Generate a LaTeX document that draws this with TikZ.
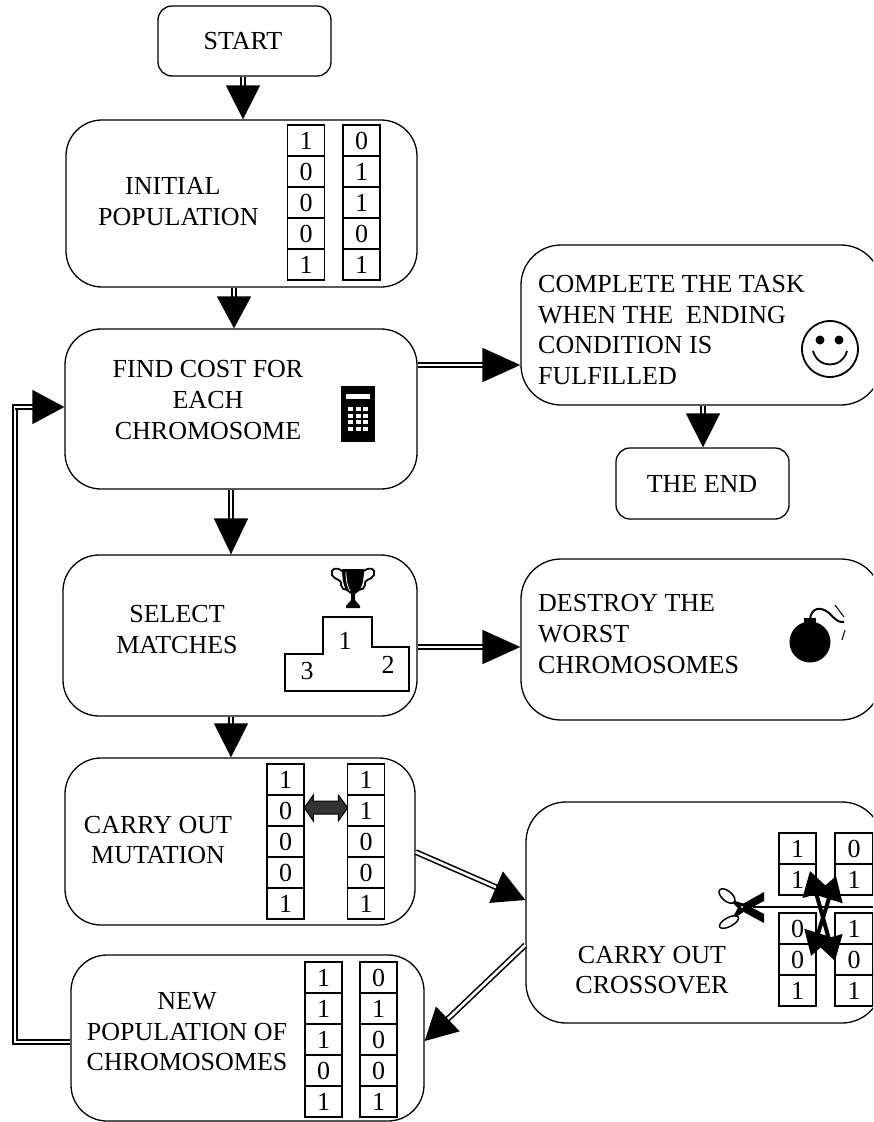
\documentclass[tikz,border=0pt]{standalone}
\usepackage{fontspec}
\setmainfont{Liberation Serif}
\usetikzlibrary{arrows.meta}
\tikzset{
  box/.style={draw,rounded corners=#1,line width=1.3,inner sep=0},
  label/.style={font=\fontsize{26}{30.6}\selectfont,inner sep=0,align=center},
  lab/.style={font=\fontsize{26}{30.6}\selectfont,inner sep=0,align=left,anchor=west},
  cell/.style={draw,line width=1.2,inner sep=0,minimum width=#1,font=\fontsize{26}{26}\selectfont},
  flow/.style={draw,line width=1.6,double,double distance=2.6,-{Triangle[length=#1,width=34]}},
  flow/.default=36,
  swap/.style={line width=4,{Triangle[length=24,width=28]}-{Triangle[length=24,width=28]}},
}
% \gridcol{name}{x centre}{width}{top}{row height}{digits}
\newcommand{\gridcol}[6]{%
  \foreach \d [count=\i from 0] in {#6}{
    \node[cell=#3,minimum height=#5] (#1\i) at (#2,{#4+(\i+0.5)*#5}) {\d};
  }}
\begin{document}
\begin{tikzpicture}[x=1pt,y=-1pt]
\useasboundingbox (0,0) rectangle (873,1122);
\clip (0,0) rectangle (873,1122);
\fill[white] (0,0) rectangle (873,1122);
% boxes
\node[box=14,minimum width=173,minimum height=70] (start) at (244.5,41) {};
\node[box=36,minimum width=351,minimum height=167] (init) at (241.5,203.5) {};
\node[box=36,minimum width=352,minimum height=160] (find) at (241,409) {};
\node[box=36,minimum width=354,minimum height=161] (sel) at (240,635.5) {};
\node[box=36,minimum width=350,minimum height=167] (mut) at (240,841.5) {};
\node[box=36,minimum width=353,minimum height=166] (newp) at (247.5,1038) {};
\node[box=40,minimum width=360,minimum height=160] (comp) at (701,325) {};
\node[box=14,minimum width=173,minimum height=71] (theend) at (702.5,483.5) {};
\node[box=40,minimum width=360,minimum height=161] (destr) at (701,639.5) {};
\node[box=40,minimum width=356,minimum height=221] (cross) at (704,912.5) {};
% box texts
\node[label] (t1) at (243,41) {START};
\node[lab] (t2) at (98,201.5) {\hspace{27pt}INITIAL\\POPULATION};
\node[label] (t3) at (208,400) {FIND COST FOR\\EACH\\CHROMOSOME};
\node[label] (t4) at (177,629.5) {SELECT\\MATCHES};
\node[label] (t5) at (158,840) {CARRY OUT\\MUTATION};
\node[label] (t6) at (187,1032) {NEW\\POPULATION OF\\CHROMOSOMES};
\node[lab] (t7) at (538,330) {COMPLETE THE TASK\\WHEN THE\ \ ENDING\\CONDITION IS\\FULFILLED};
\node[label] (t8) at (702,484) {THE END};
\node[lab] (t9) at (538,634) {DESTROY THE\\WORST\\CHROMOSOMES};
\node[label] (t10) at (652,970) {CARRY OUT\\CROSSOVER};
% connectors
\draw[flow=34] ([xshift=-1.5]start.south) -- ([xshift=1.5]init.north);
\draw[flow=32] ([xshift=-7.5]init.south) -- ([xshift=-7]find.north);
\draw[flow=36] ([xshift=-10]find.south) -- ([xshift=-9]sel.north);
\draw[flow=34] ([xshift=-9]sel.south) -- ([xshift=-9]mut.north);
\draw[flow=38] ([yshift=44]find.east) -- ([yshift=-40]comp.west);
\draw[flow=34] ([xshift=2]comp.south) -- ([xshift=.5]theend.north);
\draw[flow=38] ([yshift=-11.5]sel.east) -- ([yshift=-7.5]destr.west);
\draw[flow=32] ([yshift=-10.5]mut.east) -- ([yshift=12.5]cross.west);
\draw[flow=32] ([yshift=-32.5]cross.west) -- ([yshift=-3]newp.east);
\coordinate (corner1) at (15,1042);
\coordinate (corner2) at (15,407);
\draw[line width=1.6,double,double distance=2.6,line join=miter] ([yshift=-4]newp.west) -- (corner1) -- (corner2) -- ++(20,0);
\draw[flow=32] (corner2) -- ([yshift=2]find.west);
% grids
\gridcol{a}{306}{37}{125}{31}{1,0,0,0,1}
\gridcol{b}{361.5}{37}{125}{31}{0,1,1,0,1}
\gridcol{c}{285.5}{37}{764}{31}{1,0,0,0,1}
\gridcol{d}{366}{37}{764}{31}{1,1,0,0,1}
\gridcol{e}{323.5}{37}{962}{31}{1,1,1,0,1}
\gridcol{f}{378.5}{37}{962}{31}{0,1,0,0,1}
\gridcol{g}{797.5}{37}{833}{31}{1,1}
\gridcol{h}{854}{38}{833}{31}{0,1}
\gridcol{i}{797.5}{37}{913}{31}{0,0,1}
\gridcol{j}{854}{38}{913}{31}{1,0,1}
% swap arrow (mutation)
\draw[fill=black!80,line width=1] (304.3,807.7) -- (313.3,795) -- (313.3,801) -- (338.3,801) -- (338.3,795) -- (347.7,807.7) -- (338.3,821) -- (338.3,814) -- (313.3,814) -- (313.3,821) -- cycle;
% crossover
\draw[line width=1.2] (753,907) -- (873,907);
\draw[swap] (810,871) -- (835,961);
\draw[swap] (836,876) -- (811,956);
% scissors
\fill (764,892) -- (764,901) -- (745,911) -- (736,917) -- (734,915) -- (739,906) -- cycle;
\fill (764,914) -- (764,923) -- (740,910) -- (733,903) -- (735,901) -- (745,904) -- cycle;
\draw[line width=1.5,rotate around={-40:(727,896)}] (727,896) ellipse (9.5 and 5);
\draw[line width=1.5,rotate around={28:(729,922)}] (729,922) ellipse (10.5 and 4.5);
\fill[white] (742,907) circle (1.2);
% podium
\draw[line width=1.3] (285,691) -- (285,654) -- (323,654) -- (323,617) -- (372,617) -- (372,647) -- (409,647) -- (409,691) -- cycle;
\node[label] (p1) at (345,641) {1};
\node[label] (p2) at (388,665) {2};
\node[label] (p3) at (307,671) {3};
% trophy
\fill (342,569) -- (364,569) .. controls (364,585) and (360,592) .. (355,594) -- (355,600) -- (360,606) -- (360,608) -- (346,608) -- (346,606) -- (351,600) -- (351,594) .. controls (346,592) and (342,585) .. (342,569) -- cycle;
\draw[white,line width=.8] (346,572) .. controls (346,582) and (348,588) .. (350,591);
\draw[line width=1.8] (342,571) .. controls (336,566) and (330,569) .. (332,575) .. controls (335,581) and (342,578) .. (341,585) .. controls (341,588) and (344,590) .. (347,590);
\draw[line width=1.8] (364,571) .. controls (370,566) and (376,569) .. (374,575) .. controls (371,581) and (364,578) .. (365,585) .. controls (365,588) and (362,590) .. (359,590);
% calculator
\fill (341,386) rectangle (375,442);
\fill[white] (346,394) rectangle (370,399);
\foreach \kx in {350,358,365} \foreach \ky in {409,416,422,429} \fill[white] (\kx-2.5,\ky-2) rectangle (\kx+2.5,\ky+2);
% smiley
\draw[line width=1.8] (830,349) circle (28);
\fill (820,340) circle (4.5);
\fill (839,340) circle (4.5);
\draw[line width=1.8] (813,351) .. controls (818,369) and (842,369) .. (847,351);
% bomb
\fill (810,642) circle (20.5);
\fill (804,618) rectangle (816,628);
\draw[line width=2] (810,620) .. controls (811,606) and (822,607) .. (829,613) .. controls (834,618) and (838,623) .. (844,622);
\draw[line width=1] (835,605) -- (844,617);
\draw[line width=1] (845,630) -- (842,640);
\end{tikzpicture}
\end{document}
